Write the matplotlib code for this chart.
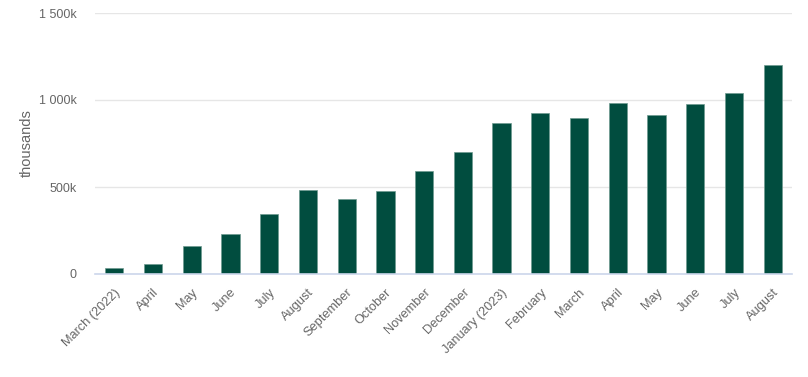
import matplotlib.pyplot as plt
import numpy as np
from matplotlib.ticker import FuncFormatter

#chart data
months = ['March (2022)', 'April', 'May', 'June', 'July', 'August', 'September',
          'October', 'November', 'December', 'January (2023)', 'February',
          'March', 'April', 'May', 'June', 'July', 'August']
values = [33, 59, 163, 230, 347, 483, 429, 477, 592, 701,
          867, 928, 894, 983, 913, 977, 1038, 1202]

plt.rcParams['font.family'] = ['Liberation Sans', 'DejaVu Sans']

fig = plt.figure(figsize=(8.08, 3.77), dpi=100)
ax = fig.add_axes([95/808, 103/377, 697/808, 261/377])

x = np.arange(len(months))
ax.bar(x, values, width=0.47, color='#014d3f', edgecolor='#6f9a90', linewidth=0.5, zorder=3)

ax.set_xlim(-0.5, len(months) - 0.5)
ax.set_ylim(0, 1500)
ax.set_yticks([0, 500, 1000, 1500])

def fmt(v, pos):
    if v == 0:
        return '0'
    s = f'{int(v):,}'.replace(',', ' ')
    return s + 'k'

ax.yaxis.set_major_formatter(FuncFormatter(fmt))
ax.grid(axis='y', color='#e6e6e6', linewidth=1, zorder=0)
for s in ['top', 'right', 'left']:
    ax.spines[s].set_visible(False)
ax.spines['bottom'].set_color('#ccd6eb')
ax.spines['bottom'].set_linewidth(1.2)
ax.spines['bottom'].set_zorder(4)

ax.tick_params(axis='y', length=0, pad=13, labelsize=9, labelcolor='#666666')
ax.tick_params(axis='x', length=0, pad=9, labelsize=9.2, labelcolor='#666666')
ax.set_xticks(x)
ax.set_xticklabels(months, rotation=45, ha='right', rotation_mode='anchor')
for lbl in ax.get_xticklabels():
    lbl.set_x(lbl.get_position()[0])

ax.set_ylabel('thousands', color='#666666', fontsize=10.5, labelpad=4)

fig.savefig('out.png', dpi=100)
